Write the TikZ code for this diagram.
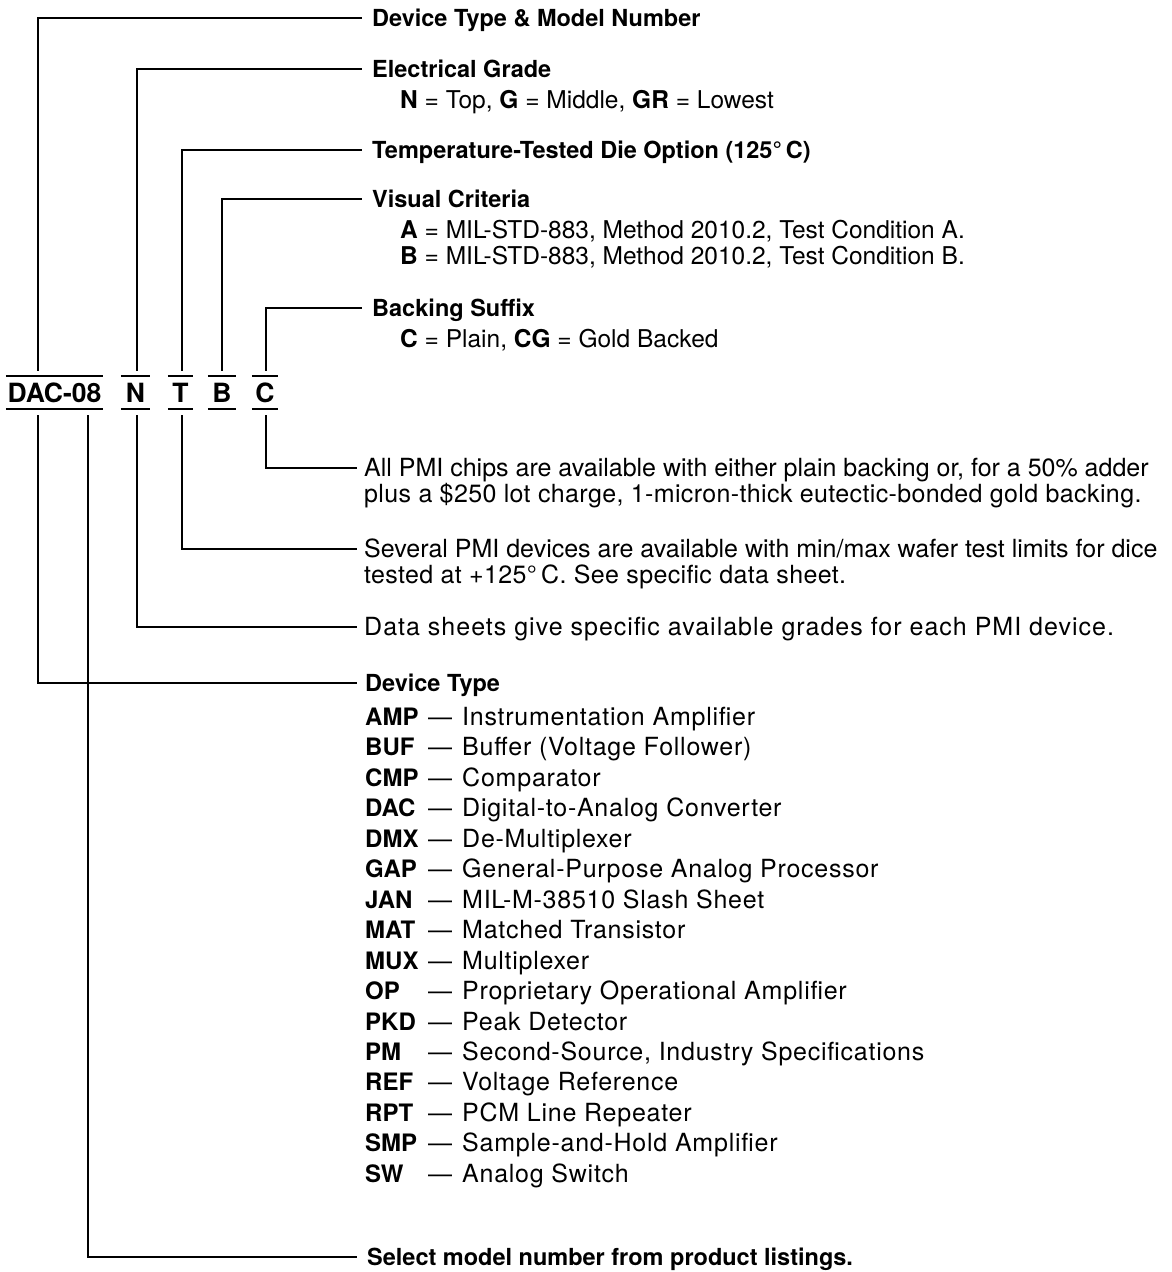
\documentclass[tikz,border=0pt]{standalone}
\usepackage{fontspec}
\setmainfont{TeX Gyre Heros}
\newfontfamily\listfont{TeX Gyre Heros}[LetterSpace=3]
\newfontfamily\wideafont{TeX Gyre Heros}[LetterSpace=1.5]
\newfontfamily\widebfont{TeX Gyre Heros}[LetterSpace=4]
\begin{document}
\begin{tikzpicture}[x=1pt,y=-1pt,
  conn/.style={line width=1.6pt,black},
  barline/.style={line width=2.4pt,black},
  txt/.style={anchor=west,inner sep=0pt,text height=17pt,text depth=0pt},
  hdr/.style={txt,font=\fontsize{23.5}{26}\selectfont\bfseries},
  sub/.style={txt,font=\fontsize{24.5}{26}\selectfont},
  para/.style={txt,font=\fontsize{25}{26}\selectfont},
  parawa/.style={txt,font=\fontsize{25}{26}\wideafont},
  parawb/.style={txt,font=\fontsize{25}{26}\widebfont},
  abbr/.style={txt,font=\fontsize{24}{26}\selectfont\bfseries},
  desc/.style={txt,font=\fontsize{25}{26}\listfont},
  dashmark/.style={txt,font=\fontsize{24}{26}\selectfont},
  lbl/.style={anchor=center,inner sep=0pt,minimum height=33pt,font=\fontsize{26.5}{28}\selectfont\bfseries}
]
\useasboundingbox[fill=white] (0,0) rectangle (1172,1272);

% part-number labels
\node[lbl,minimum width=97pt] (dac) at (54.5,392.5) {DAC-08};
\node[lbl,minimum width=29pt] (n) at (135.5,392.5) {N};
\node[lbl,minimum width=25pt] (t) at (180.5,392.5) {T};
\node[lbl,minimum width=28pt] (b) at (222,392.5) {B};
\node[lbl,minimum width=26pt] (c) at (265,392.5) {C};
\foreach \l in {dac,n,t,b,c}{
  \draw[barline] (\l.north west) -- (\l.north east);
  \draw[barline] (\l.south west) -- (\l.south east);
}

% upper headings
\node[hdr] (h1) at (372,18) {Device Type \& Model Number};
\node[hdr] (h2) at (372,69) {Electrical Grade};
\node[sub] (s2) at (400,100) {\textbf{N} = Top, \textbf{G} = Middle, \textbf{GR} = Lowest};
\node[hdr] (h3) at (372,150) {Temperature-Tested Die Option (125°\,C)};
\node[hdr] (h4) at (372,199) {Visual Criteria};
\node[sub] (s4a) at (400,230) {\textbf{A} = MIL-STD-883, Method 2010.2, Test Condition A.};
\node[sub] (s4b) at (400,256) {\textbf{B} = MIL-STD-883, Method 2010.2, Test Condition B.};
\node[hdr] (h5) at (372,308) {Backing Suffix};
\node[sub] (s5) at (400,339) {\textbf{C} = Plain, \textbf{CG} = Gold Backed};

% lower notes
\node[para] (p1a) at (364,468) {All PMI chips are available with either plain backing or, for a 50\% adder};
\node[parawa] (p1b) at (364,494) {plus a \$250 lot charge, 1-micron-thick eutectic-bonded gold backing.};
\node[para] (p2a) at (364,549) {Several PMI devices are available with min/max wafer test limits for dice};
\node[parawa] (p2b) at (364,575) {tested at +125°\,C. See specific data sheet.};
\node[parawb] (p3) at (364,627) {Data sheets give specific available grades for each PMI device.};

\node[hdr] (h6) at (365,683) {Device Type};
\foreach \i/\a/\d in {0/AMP/Instrumentation Amplifier,1/BUF/Buffer (Voltage Follower),2/CMP/Comparator,3/DAC/Digital-to-Analog Converter,4/DMX/De-Multiplexer,5/GAP/General-Purpose Analog Processor,6/JAN/MIL-M-38510 Slash Sheet,7/MAT/Matched Transistor,8/MUX/Multiplexer,9/OP/Proprietary Operational Amplifier,10/PKD/Peak Detector,11/PM/{Second-Source, Industry Specifications},12/REF/Voltage Reference,13/RPT/PCM Line Repeater,14/SMP/Sample-and-Hold Amplifier,15/SW/Analog Switch}{
  \node[abbr] (a\i) at (365,717+30.45*\i) {\a};
  \node[dashmark] (m\i) at (428,717+30.45*\i) {—};
  \node[desc] (d\i) at (462,717+30.45*\i) {\d};
}
\node[hdr] (h7) at (367,1257) {Select model number from product listings.};

% connectors above
\draw[conn] ([xshift=-16.8pt,yshift=5pt]dac.north) |- ([xshift=-10pt]h1.west);
\draw[conn] ([xshift=1.5pt,yshift=5pt]n.north) |- ([xshift=-10pt]h2.west);
\draw[conn] ([xshift=1.5pt,yshift=5pt]t.north) |- ([xshift=-10pt]h3.west);
\draw[conn] ([yshift=5pt]b.north) |- ([xshift=-10pt]h4.west);
\draw[conn] ([xshift=1pt,yshift=5pt]c.north) |- ([xshift=-10pt]h5.west);
% connectors below
\draw[conn] ([xshift=1pt,yshift=-6pt]c.south) |- ([xshift=-7pt]p1a.west);
\draw[conn] ([xshift=1.5pt,yshift=-6pt]t.south) |- ([xshift=-7pt]p2a.west);
\draw[conn] ([xshift=1.5pt,yshift=-6pt]n.south) |- ([xshift=-7pt]p3.west);
\draw[conn] ([xshift=-16.8pt,yshift=-6pt]dac.south) |- ([xshift=-8pt]h6.west);
\draw[conn] ([xshift=33.5pt,yshift=-6pt]dac.south) |- ([xshift=-10pt]h7.west);
\end{tikzpicture}
\end{document}
